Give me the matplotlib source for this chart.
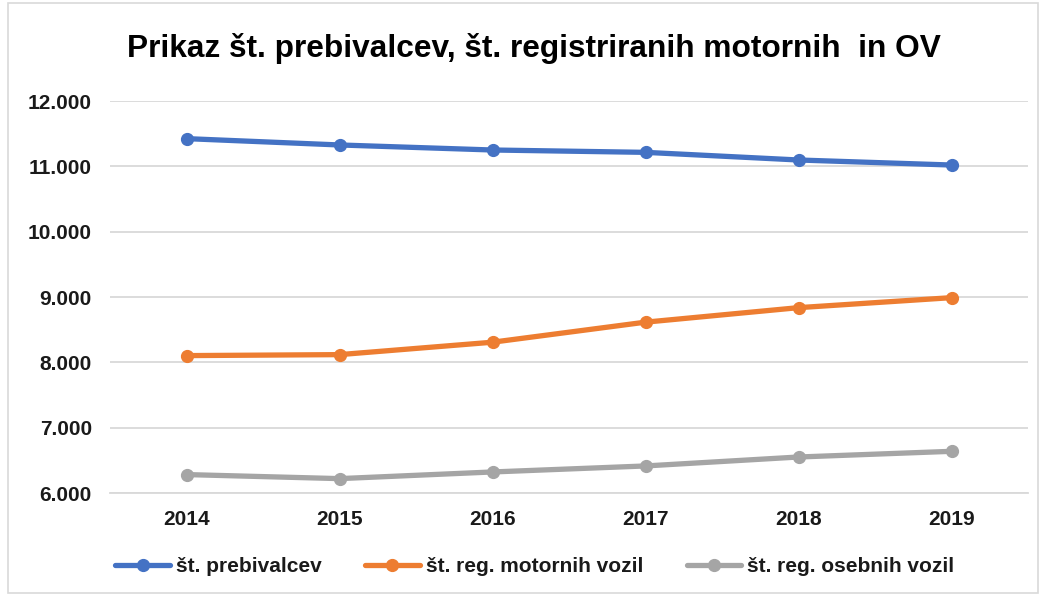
import matplotlib.pyplot as plt
from matplotlib.patches import Rectangle
from matplotlib.ticker import FuncFormatter

plt.rcParams['font.family'] = ['Liberation Sans', 'DejaVu Sans']

years = ['2014', '2015', '2016', '2017', '2018', '2019']
prebivalci = [11424, 11327, 11250, 11214, 11097, 11020]
motorna_vozila = [8103, 8118, 8308, 8615, 8837, 8990]
osebna_vozila = [6282, 6220, 6322, 6414, 6551, 6638]

series = [
    ('št. prebivalcev', prebivalci, '#4472C4'),
    ('št. reg. motornih vozil', motorna_vozila, '#ED7D31'),
    ('št. reg. osebnih vozil', osebna_vozila, '#A5A5A5'),
]

fig = plt.figure(figsize=(10.44, 5.96), dpi=100)
ax = fig.add_axes([110 / 1044, 1 - 493 / 596, 918 / 1044, 392 / 596])

x = list(range(len(years)))
for label, values, color in series:
    ax.plot(x, values, color=color, linewidth=3.8, marker='o', markersize=8.5,
            label=label, solid_capstyle='round')

ax.set_xlim(-0.5, len(years) - 0.5)
ax.set_ylim(6000, 12000)
ax.set_yticks(range(6000, 12001, 1000))
ax.yaxis.set_major_formatter(FuncFormatter(lambda v, p: f'{int(v):,}'.replace(',', '.')))
ax.set_xticks(x)
ax.set_xticklabels(years)

ax.grid(axis='y', color='#D9D9D9', linewidth=1.3)
ax.set_axisbelow(True)
for s in ax.spines.values():
    s.set_visible(False)
ax.spines['bottom'].set_visible(True)
ax.spines['bottom'].set_color('#D9D9D9')
ax.spines['bottom'].set_linewidth(1.3)
ax.tick_params(length=0, labelsize=15)
ax.tick_params(axis='y', pad=13)
ax.tick_params(axis='x', pad=12)
for t in ax.get_xticklabels() + ax.get_yticklabels():
    t.set_fontweight('bold')
    t.set_color('#1a1a1a')

fig.text(534 / 1044, 1 - 48 / 596, 'Prikaz št. prebivalcev, št. registriranih motornih  in OV',
         ha='center', va='center', fontsize=22.8, fontweight='bold', color='black')

leg = fig.legend(loc='center', bbox_to_anchor=(535 / 1044, 1 - 567 / 596), ncol=3,
                 frameon=False, handlelength=2.6, columnspacing=2.1, handletextpad=0.3,
                 prop={'size': 15, 'weight': 'bold'})
for t in leg.get_texts():
    t.set_color('#1a1a1a')

fig.patches.append(Rectangle((8 / 1044, 0.005), 1030 / 1044, 0.99, transform=fig.transFigure,
                             fill=False, edgecolor='#D9D9D9', linewidth=1.2))

fig.savefig('out.png', dpi=100)
